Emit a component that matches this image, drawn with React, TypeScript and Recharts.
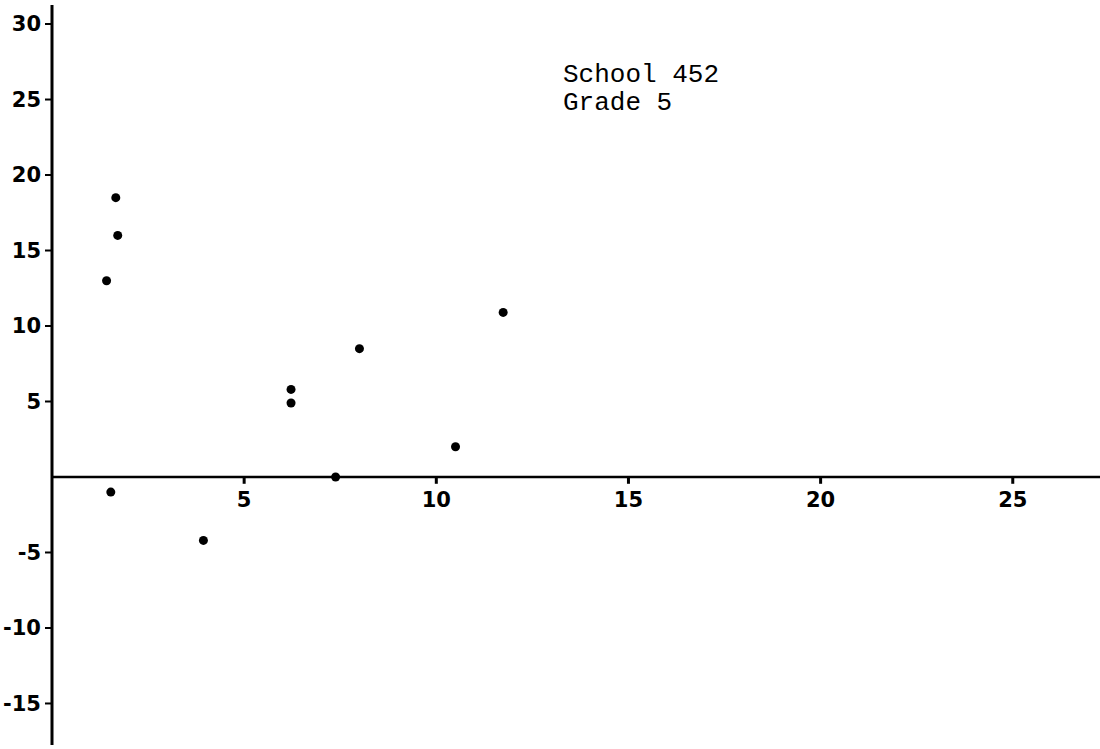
import { ReferenceLine, Scatter, ScatterChart, XAxis, YAxis } from 'recharts';

// readings (x, y) taken off the plot
const pointX = [1.42, 1.66, 1.71, 1.53, 3.94, 6.22, 6.22, 7.38, 8.0, 10.5, 11.74];
const pointY = [13.0, 18.5, 16.0, -1.0, -4.2, 5.8, 4.9, 0, 8.5, 2.0, 10.9];

const xTicks = [5, 10, 15, 20, 25];
const yTicks = [30, 25, 20, 15, 10, 5, -5, -10, -15];

const xDomain: [number, number] = [0, 27.27];
const yDomain: [number, number] = [-17.75, 31.26];

const noteLines = ['School 452', 'Grade 5'];

const points = pointX.map((x, i) => ({ x, y: pointY[i] }));
const xTickMarks = xTicks.map((x) => ({ x, y: 0 }));

const labelFont = {
  fontFamily: '"DejaVu Sans", sans-serif',
  fontWeight: 700,
  fontSize: 21,
  fill: '#000',
};

function Dot(props: any) {
  const { cx, cy } = props;
  return <circle cx={cx} cy={cy} r={4.5} fill="#000" />;
}

// label hanging under the zero line
function XTickLabel(props: any) {
  const { cx, cy, payload } = props;
  return (
    <text x={cx} y={cy + 30} textAnchor="middle" {...labelFont}>
      {payload.x}
    </text>
  );
}

export default function App() {
  return (
    <div style={{ position: 'absolute', left: 0, top: 0, width: 1100, height: 749, background: '#fff' }}>
      <ScatterChart width={1100} height={749} margin={{ top: 5, right: 0, bottom: 4, left: 0 }}>
        <XAxis type="number" dataKey="x" domain={xDomain} allowDataOverflow hide />
        <YAxis
          type="number"
          dataKey="y"
          domain={yDomain}
          allowDataOverflow
          ticks={yTicks}
          interval={0}
          width={52}
          axisLine={{ stroke: '#000', strokeWidth: 3 }}
          tickLine={{ stroke: '#000', strokeWidth: 2 }}
          tickSize={7}
          tickMargin={4}
          tick={labelFont}
        />
        <ReferenceLine y={0} stroke="#000" strokeWidth={2.5} />
        {xTicks.map((t) => (
          <ReferenceLine
            key={t}
            segment={[
              { x: t, y: 0 },
              { x: t, y: -0.45 },
            ]}
            stroke="#000"
            strokeWidth={3}
          />
        ))}
        <Scatter data={xTickMarks} shape={<XTickLabel />} isAnimationActive={false} />
        <Scatter data={points} shape={<Dot />} isAnimationActive={false} />
      </ScatterChart>
      <div
        style={{
          position: 'absolute',
          left: 563,
          top: 61,
          fontFamily: '"Liberation Mono", monospace',
          fontSize: 26,
          lineHeight: '28px',
          color: '#000',
        }}
      >
        {noteLines.map((t) => (
          <div key={t}>{t}</div>
        ))}
      </div>
    </div>
  );
}
